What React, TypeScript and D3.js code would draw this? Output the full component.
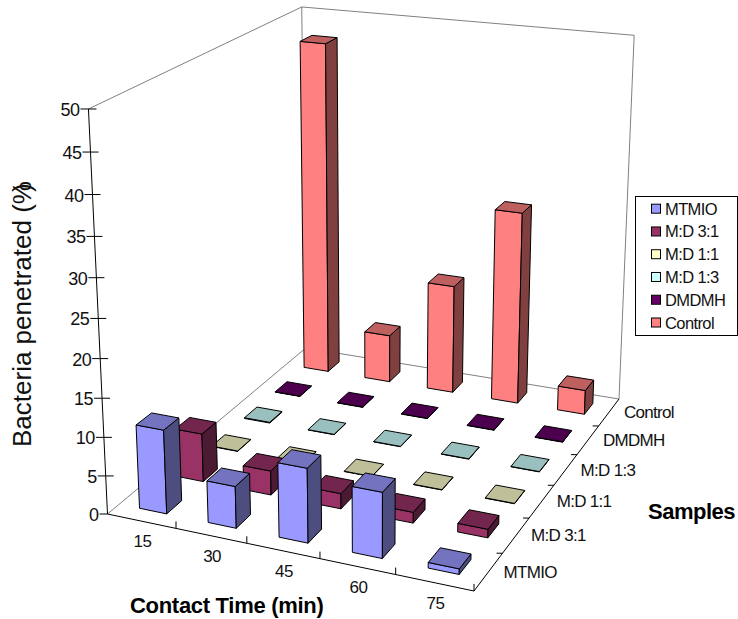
import React from "react";
import * as d3 from "d3";

const times = ["15", "30", "45", "60", "75"];
const samples = ["MTMIO", "M:D 3:1", "M:D 1:1", "M:D 1:3", "DMDMH", "Control"];
const mtmio = [10.9, 5.4, 9.5, 8.3, 0.7];
const md31 = [6.4, 3.2, 2, 1.4, 1.1];
const md11 = [0.05, 0.05, 0.05, 0.05, 0.05];
const md13 = [0.1, 0.05, 0.05, 0.05, 0.05];
const dmdmh = [0.05, 0.05, 0.05, 0.05, 0.05];
const control = [46.9, 6.8, 15.3, 26.8, 3.4];
const seriesValues = [mtmio, md31, md11, md13, dmdmh, control];
const colors = ["#9999FF", "#993366", "#FFFFCC", "#CCFFFF", "#660066", "#FF8080"];
const valueTicks = [0, 5, 10, 15, 20, 25, 30, 35, 40, 45, 50];

// floor corners: front-left, front-right, back-right, back-left
const A: [number, number] = [107.5, 514];
const B: [number, number] = [474, 591];
const C: [number, number] = [619, 399];
const D: [number, number] = [305.8, 348];
const VP: [number, number] = [376, 6227];
const RISE = 0.0662;

function homography() {
  const [x0, y0] = A, [x1, y1] = B, [x2, y2] = C, [x3, y3] = D;
  const dx1 = x1 - x2, dx2 = x3 - x2, sx = x0 - x1 + x2 - x3;
  const dy1 = y1 - y2, dy2 = y3 - y2, sy = y0 - y1 + y2 - y3;
  const den = dx1 * dy2 - dx2 * dy1;
  const g = (sx * dy2 - dx2 * sy) / den;
  const h = (dx1 * sy - sx * dy1) / den;
  return { a: x1 - x0 + g * x1, b: x3 - x0 + h * x3, c: x0, d: y1 - y0 + g * y1, e: y3 - y0 + h * y3, f: y0, g, h };
}
const H = homography();
const zScale = d3.scaleLinear().domain([0, 50]).range([0, RISE]);

function project(u: number, v: number, val: number): [number, number] {
  const t = zScale(val);
  const X = H.a * u + H.b * v + H.c;
  const Y = H.d * u + H.e * v + H.f;
  const W = H.g * u + H.h * v + 1;
  return [(X - t * VP[0]) / (W - t), (Y - t * VP[1]) / (W - t)];
}

const GAP = 0.6;
const xBand = d3.scaleBand<string>().domain(times).range([0, 1]).paddingInner(GAP).paddingOuter(GAP / 2);
const yBand = d3.scaleBand<string>().domain(samples).range([0, 1]).paddingInner(GAP).paddingOuter(GAP / 2);
const xEdge = d3.scaleLinear().domain([0, times.length]).range([0, 1]);
const yEdge = d3.scaleLinear().domain([0, samples.length]).range([0, 1]);

const pts = (p: [number, number][]) => p.map((q) => q[0].toFixed(2) + "," + q[1].toFixed(2)).join(" ");
const shade = (c: string, k: number) => {
  const r = d3.rgb(c);
  return d3.rgb(r.r * k, r.g * k, r.b * k).formatHex();
};

const FONT = "'Liberation Sans', Arial, sans-serif";
const TXT = "#111";

function Bar({ i, j }: { i: number; j: number }) {
  const u0 = xBand(times[i])!, u1 = u0 + xBand.bandwidth();
  const v0 = yBand(samples[j])!, v1 = v0 + yBand.bandwidth();
  const val = seriesValues[j][i];
  const c = colors[j];
  const f0 = project(u0, v0, 0), f1 = project(u1, v0, 0), b1 = project(u1, v1, 0);
  const t0 = project(u0, v0, val), t1 = project(u1, v0, val), t2 = project(u1, v1, val), t3 = project(u0, v1, val);
  const common = { stroke: "#000", strokeWidth: 1, strokeLinejoin: "round" as const };
  return (
    <g>
      <polygon points={pts([f0, f1, t1, t0])} fill={c} {...common} />
      <polygon points={pts([f1, b1, t2, t1])} fill={shade(c, 0.5)} {...common} />
      <polygon points={pts([t0, t1, t2, t3])} fill={shade(c, 0.75)} {...common} />
    </g>
  );
}

export default function App() {
  const aTop = project(0, 0, 50), dTop = project(0, 1, 50), cTop = project(1, 1, 50);
  const order: [number, number][] = [];
  for (let j = samples.length - 1; j >= 0; j--) for (let i = 0; i < times.length; i++) order.push([i, j]);
  const lineGrey = { stroke: "#808080", strokeWidth: 1, fill: "none" };
  const seg = (p: [number, number], q: [number, number], props: any, key?: any) => (
    <line key={key} x1={p[0]} y1={p[1]} x2={q[0]} y2={q[1]} {...props} />
  );
  const axis = { stroke: "#000", strokeWidth: 1 };
  return (
    <svg width={738} height={619} style={{ position: "absolute", left: 0, top: 0, background: "#fff" }} fontFamily={FONT}>
      {seg(A, D, lineGrey)}
      {seg(D, C, lineGrey)}
      {seg(aTop, dTop, lineGrey)}
      {seg(dTop, cTop, lineGrey)}
      {seg(D, dTop, lineGrey)}
      {seg(C, cTop, lineGrey)}

      {seg(A, aTop, axis)}
      {seg(A, B, axis)}
      {seg(B, C, axis)}
      {valueTicks.map((t) => {
        const p = project(0, 0, t);
        return (
          <g key={t}>
            <line x1={p[0] - 8} x2={t === 0 ? p[0] : p[0] + 8} y1={p[1]} y2={p[1]} {...axis} />
            <text x={p[0] - 9} y={p[1] + 7} textAnchor="end" fontSize={18} fill={TXT} letterSpacing={-0.5}>{t}</text>
          </g>
        );
      })}
      {times.map((t, i) => {
        const e = project(xEdge(i + 1), 0, 0);
        const c = project(xEdge(i + 0.5), 0, 0);
        return (
          <g key={t}>
            <line x1={e[0]} x2={e[0]} y1={e[1]} y2={e[1] - 7} {...axis} />
            <text x={c[0] + 1} y={c[1] + 26} textAnchor="middle" fontSize={17} fill={TXT} letterSpacing={-0.5}>{t}</text>
          </g>
        );
      })}
      {samples.map((s, j) => {
        const e = project(1, yEdge(j + 1), 0);
        const c = project(1, yEdge(j + 0.5), 0);
        return (
          <g key={s}>
            {j < samples.length - 1 ? <line x1={e[0] - 6} x2={e[0]} y1={e[1]} y2={e[1]} {...axis} /> : null}
            <text x={c[0] + 15} y={c[1] + 6} fontSize={17} fill={TXT} letterSpacing={-0.7}>{s}</text>
          </g>
        );
      })}

      {order.map(([i, j]) => <Bar key={i + "-" + j} i={i} j={j} />)}

      <text transform="translate(31,447) rotate(-90)" fontSize={26} fill={TXT}>Bacteria penetrated (%<tspan dx={-11}>)</tspan></text>
      <text x={130} y={613} fontSize={22} fontWeight="bold" fill="#000" letterSpacing={-0.3}>Contact Time (min)</text>
      <text x={648} y={519} fontSize={22} fontWeight="bold" fill="#000" letterSpacing={-0.5}>Samples</text>

      <rect x={635.5} y={196.5} width={102} height={139} fill="#fff" stroke="#000" strokeWidth={1} />
      {samples.map((s, j) => {
        const rowY = d3.scaleLinear().domain([0, samples.length - 1]).range([208.7, 322.5])(j);
        return (
          <g key={s}>
            <rect x={651.5} y={rowY - 4.5} width={9} height={9} fill={colors[j]} stroke="#000" strokeWidth={1} />
            <text x={665} y={rowY + 6} fontSize={16.5} fill={TXT} letterSpacing={-0.6}>{s}</text>
          </g>
        );
      })}
    </svg>
  );
}
